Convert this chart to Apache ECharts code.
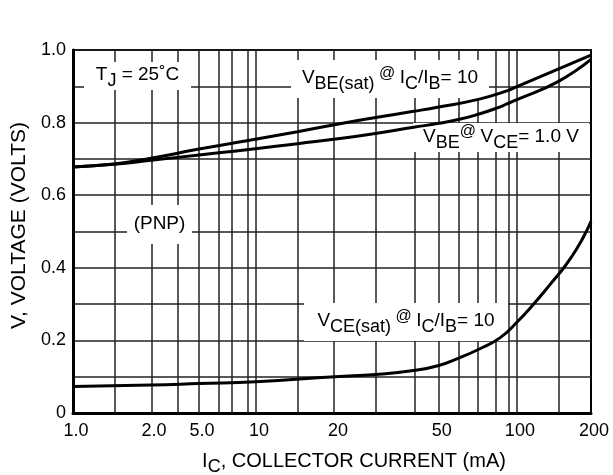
<!DOCTYPE html>
<html>
<head>
<meta charset="utf-8">
<script src="https://cdn.jsdelivr.net/npm/echarts@6/dist/echarts.min.js"></script>
<style>
  html, body { margin: 0; background: #fff; }
  #chart { width: 613px; height: 475px; }
</style>
</head>
<body>
<div id="chart"></div>
<script>
// the printed current axis is not a true log scale, so the labelled currents
// are pinned to where they sit (in decades from 1 mA) and log-interpolated between
const tickValues = [1, 2, 5, 10, 20, 50, 100, 200];
const tickLabels = ['1.0', '2.0', '5.0', '10', '20', '50', '100', '200'];
const tickPos = [0, 0.299, 0.483, 0.701, 1.004, 1.402, 1.701, 1.985];
// vertical grid lines as printed (mA)
const gridCurrents = [1.44, 2, 3.3, 5, 6.3, 7.6, 8.95, 10, 14.4, 20, 28.6, 40, 50, 60, 71, 83, 92, 100, 147];

const vbeSatCurrent = [1, 1.44, 2, 5, 8.95, 14.4, 20.9, 28.6, 40, 50, 71, 92, 100, 147, 200];
const vbeSatVolts = [0.678, 0.686, 0.702, 0.727, 0.75, 0.775, 0.797, 0.814, 0.831, 0.843, 0.864, 0.888, 0.899, 0.947, 0.986];

const vbeCurrent = [1, 1.44, 2, 5, 8.95, 14.4, 20.9, 28.6, 40, 50, 60, 71, 83, 92, 100, 147, 200];
const vbeVolts = [0.678, 0.685, 0.696, 0.711, 0.725, 0.742, 0.756, 0.77, 0.787, 0.798, 0.809, 0.823, 0.839, 0.852, 0.863, 0.913, 0.974];

const vceSatCurrent = [1, 2, 5, 10, 20, 28.6, 40, 50, 60, 71, 86, 100, 118, 136, 157, 176, 193, 200];
const vceSatVolts = [0.073, 0.077, 0.081, 0.086, 0.1, 0.106, 0.117, 0.131, 0.152, 0.175, 0.207, 0.25, 0.303, 0.353, 0.405, 0.455, 0.505, 0.528];

function warp(mA) {
  let i = 0;
  while (i < tickValues.length - 2 && mA > tickValues[i + 1]) i++;
  const a = Math.log10(tickValues[i]);
  const b = Math.log10(tickValues[i + 1]);
  const t = (Math.log10(mA) - a) / (b - a);
  return tickPos[i] + t * (tickPos[i + 1] - tickPos[i]);
}

function pairs(xs, ys) {
  return xs.map((x, i) => [warp(x), ys[i]]);
}

const FONT = "'Liberation Sans', Arial, sans-serif";
const rich = {
  n: { fontSize: 19, fontFamily: FONT, color: '#000', verticalAlign: 'top', lineHeight: 21 },
  s: { fontSize: 18, fontFamily: FONT, color: '#000', verticalAlign: 'top', lineHeight: 21, padding: [7, 0, 0, 0] },
  a: { fontSize: 16, fontFamily: FONT, color: '#000', verticalAlign: 'top', lineHeight: 21, padding: [-3, 0, 0, 0] }
};
const nameRich = {
  n: { fontSize: 20, fontFamily: FONT, color: '#000', verticalAlign: 'top', lineHeight: 22 },
  s: { fontSize: 18, fontFamily: FONT, color: '#000', verticalAlign: 'top', lineHeight: 22, padding: [7, 0, 0, 0] }
};

// white label boxes sit on their own layer above the grid lines
function box(x, y, w, h, text) {
  return [
    { type: 'rect', zlevel: 1, silent: true, shape: { x: x, y: y, width: w, height: h }, style: { fill: '#fff' } },
    { type: 'text', zlevel: 1, z: 1, silent: true, x: x + w / 2, y: y + h / 2,
      style: { text: text, rich: rich, align: 'center', verticalAlign: 'middle' } }
  ];
}

const lineStyle = { color: '#000', width: 3 };

const chart = echarts.init(document.getElementById('chart'));
chart.setOption({
  animation: false,
  grid: {
    left: 73, top: 50, width: 518, height: 363,
    outerBoundsMode: 'none',
    containLabel: false,
    show: true, borderColor: '#000', borderWidth: 2
  },
  xAxis: {
    type: 'value',
    min: 0,
    max: warp(200),
    splitLine: { show: false },
    axisTick: { show: false },
    axisLine: { lineStyle: { color: '#000', width: 3 } },
    axisLabel: {
      customValues: tickValues.map(warp),
      margin: 9,
      padding: [0, 0, 0, 6],
      fontSize: 18,
      fontFamily: FONT,
      color: '#000',
      formatter: function (v) {
        let best = 0;
        tickValues.forEach((t, i) => {
          if (Math.abs(warp(t) - v) < Math.abs(warp(tickValues[best]) - v)) best = i;
        });
        return tickLabels[best];
      }
    },
    name: '{n|I}{s|C}{n|, COLLECTOR CURRENT (mA)}',
    nameLocation: 'middle',
    nameGap: 38,
    nameTextStyle: { rich: nameRich, padding: [0, 0, 0, 44] }
  },
  yAxis: {
    type: 'value',
    min: 0,
    max: 1,
    interval: 0.1,
    axisTick: { show: false },
    axisLine: { show: true, lineStyle: { color: '#000', width: 3 } },
    splitLine: { lineStyle: { color: '#222', width: 1.5 } },
    axisLabel: {
      margin: 7,
      fontSize: 18,
      fontFamily: FONT,
      color: '#000',
      formatter: function (v) {
        const k = Math.round(v * 10);
        if (k % 2) return '';
        return k === 0 ? '0' : v.toFixed(1);
      }
    },
    name: 'V, VOLTAGE (VOLTS)',
    nameLocation: 'middle',
    nameGap: 40,
    nameTextStyle: { fontSize: 21, fontFamily: FONT, color: '#000', padding: [0, 0, 0, 12] }
  },
  graphic: [].concat(
    box(84, 62, 107, 28, '{n|T}{s|J}{n| = 25˚C}'),
    box(291, 60, 198, 38, '{n|V}{s|BE(sat)}{a| @ }{n|I}{s|C}{n|/I}{s|B}{n|= 10}'),
    box(127, 205, 65, 39, '{n|(PNP)}'),
    box(413, 123, 176, 29, '{n|V}{s|BE}{a|@ }{n|V}{s|CE}{n|= 1.0 V}'),
    box(304, 303, 204, 38, '{n|V}{s|CE(sat)}{a| @ }{n|I}{s|C}{n|/I}{s|B}{n|= 10}')
  ),
  series: [
    {
      name: 'grid',
      type: 'line',
      data: [],
      markLine: {
        silent: true,
        symbol: 'none',
        label: { show: false },
        lineStyle: { color: '#222', width: 1.5, type: 'solid' },
        data: gridCurrents.map(c => ({ xAxis: warp(c) }))
      }
    },
    { name: 'VBE(sat)', type: 'line', zlevel: 2, smooth: 0.5, showSymbol: false, lineStyle: lineStyle, data: pairs(vbeSatCurrent, vbeSatVolts) },
    { name: 'VBE', type: 'line', zlevel: 2, smooth: 0.5, showSymbol: false, lineStyle: lineStyle, data: pairs(vbeCurrent, vbeVolts) },
    { name: 'VCE(sat)', type: 'line', zlevel: 2, smooth: 0.5, showSymbol: false, lineStyle: lineStyle, data: pairs(vceSatCurrent, vceSatVolts) }
  ]
});
</script>
</body>
</html>
